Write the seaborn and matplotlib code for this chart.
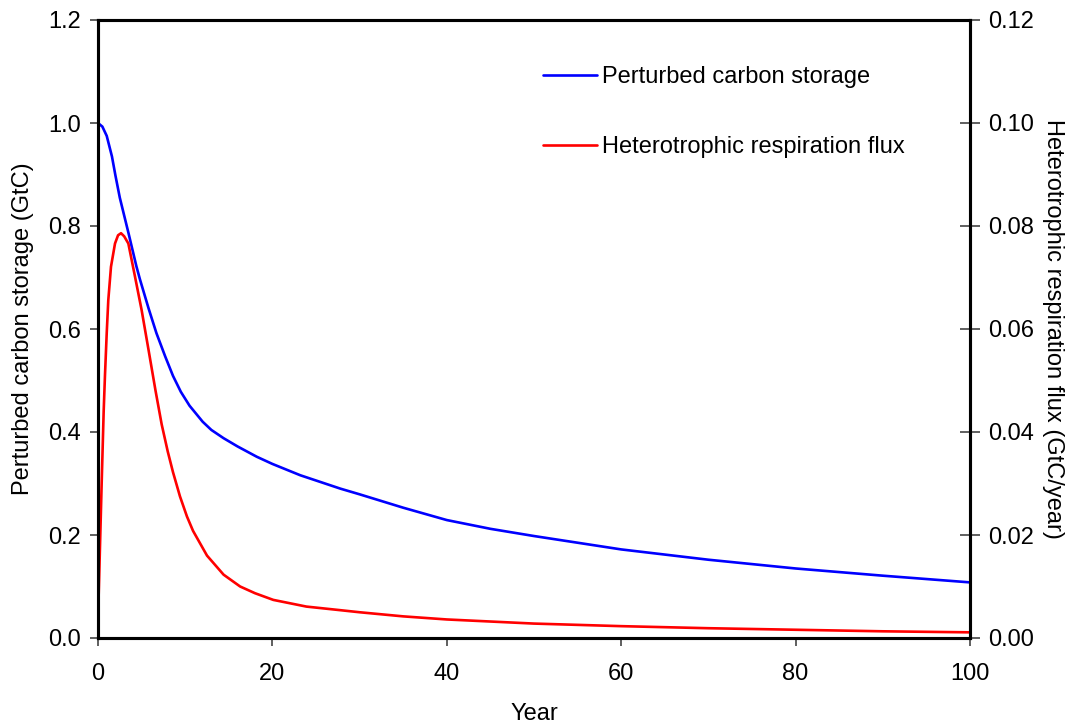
import matplotlib
matplotlib.use("Agg")
import matplotlib.pyplot as plt
import seaborn as sns
import pandas as pd

# values
years_storage = [0, 0.5, 1.0, 1.6, 2.0, 2.5, 3.5, 4.4, 4.8, 5.8, 6.7, 7.7, 8.6, 9.5, 10.5,
                 12, 13, 14.4, 16, 18.2, 20, 23.2, 27.8, 30, 35, 40, 45, 50, 60, 70, 80,
                 90, 100]
storage = [1.0, 0.993, 0.975, 0.935, 0.898, 0.855, 0.786, 0.722, 0.697, 0.64, 0.592, 0.547,
           0.509, 0.478, 0.451, 0.42, 0.404, 0.388, 0.372, 0.352, 0.338, 0.316, 0.29, 0.279,
           0.253, 0.229, 0.212, 0.198, 0.172, 0.152, 0.135, 0.121, 0.108]

years_flux = [0, 0.2, 0.42, 0.65, 0.8, 1.0, 1.18, 1.49, 1.95, 2.3, 2.64, 3.0, 3.48, 4.24,
              5.0, 5.8, 6.6, 7.3, 8.0, 8.6, 9.4, 10.2, 10.9, 12.5, 14.4, 16.3, 18, 20.1,
              23.9, 27.8, 30, 35, 40, 50, 60, 70, 80, 90, 100]
flux = [0.0035, 0.016, 0.03, 0.044, 0.051, 0.0592, 0.0656, 0.0721, 0.0766, 0.0782, 0.0786,
        0.078, 0.0766, 0.0702, 0.0637, 0.0559, 0.048, 0.0415, 0.0362, 0.0322, 0.0275,
        0.0236, 0.0208, 0.016, 0.0123, 0.01, 0.0087, 0.0074, 0.0061, 0.0054, 0.005,
        0.0042, 0.0036, 0.0028, 0.0023, 0.0019, 0.0016, 0.0013, 0.0011]

x_ticks = [0, 20, 40, 60, 80, 100]
left_ticks = [0.0, 0.2, 0.4, 0.6, 0.8, 1.0, 1.2]
right_ticks = [0.00, 0.02, 0.04, 0.06, 0.08, 0.10, 0.12]

df_s = pd.DataFrame({"Year": years_storage, "Storage": storage})
df_f = pd.DataFrame({"Year": years_flux, "Flux": flux})

sns.set_style("ticks")
plt.rcParams["font.family"] = ["Liberation Sans", "DejaVu Sans"]
plt.rcParams["text.color"] = "black"
plt.rcParams["axes.labelcolor"] = "black"
plt.rcParams["xtick.color"] = "black"
plt.rcParams["ytick.color"] = "black"
fs = 17

fig = plt.figure(figsize=(10.71, 7.28), dpi=100)
ax = fig.add_axes([98 / 1071, 1 - 638 / 728, 872 / 1071, 618 / 728])
ax2 = ax.twinx()

sns.lineplot(data=df_s, x="Year", y="Storage", ax=ax, color="#0000ff", lw=1.9,
             label="Perturbed carbon storage", legend=False)
sns.lineplot(data=df_f, x="Year", y="Flux", ax=ax2, color="#ff0000", lw=1.9,
             label="Heterotrophic respiration flux", legend=False)

ax.set_xlim(0, 100)
ax.set_ylim(0, 1.2)
ax2.set_ylim(0, 0.12)
ax.set_xticks(x_ticks)
ax.set_yticks(left_ticks)
ax2.set_yticks(right_ticks)
ax.set_yticklabels([f"{v:.1f}" for v in left_ticks])
ax2.set_yticklabels([f"{v:.2f}" for v in right_ticks])

for a in (ax, ax2):
    for s in a.spines.values():
        s.set_visible(True)
        s.set_color("black")
        s.set_linewidth(2.2)
ax.tick_params(axis="x", direction="out", length=6, width=1.2, color="#444444",
               labelsize=fs, pad=12, labelcolor="black")
ax.tick_params(axis="y", direction="out", length=6, width=1.2, color="#444444",
               labelsize=fs, pad=6, labelcolor="black")
ax2.tick_params(axis="y", direction="inout", length=14, width=1.2, color="#444444",
                labelsize=fs, pad=6, labelcolor="black")

ax.set_xlabel("Year", fontsize=fs, color="black")
ax.xaxis.set_label_coords(0.5, -0.105)
ax.set_ylabel("Perturbed carbon storage (GtC)", fontsize=fs, color="black")
ax.yaxis.set_label_coords(-0.073, 0.5)
ax2.set_ylabel("Heterotrophic respiration flux (GtC/year)", fontsize=fs, rotation=270,
               color="black")
ax2.yaxis.label.set_va("bottom")
ax2.yaxis.set_label_coords(1.083, 0.5)

h1, l1 = ax.get_legend_handles_labels()
h2, l2 = ax2.get_legend_handles_labels()
leg = ax2.legend(h1 + h2, l1 + l2, loc="upper left",
                 bbox_to_anchor=(543 / 1071, 1 - 66 / 728),
                 bbox_transform=fig.transFigure, frameon=False, fontsize=fs, borderpad=0,
                 borderaxespad=0, handlelength=2.3, handletextpad=0.2, labelspacing=2.05)
for t in leg.get_texts():
    t.set_color("black")

fig.savefig("out.png", dpi=100)
